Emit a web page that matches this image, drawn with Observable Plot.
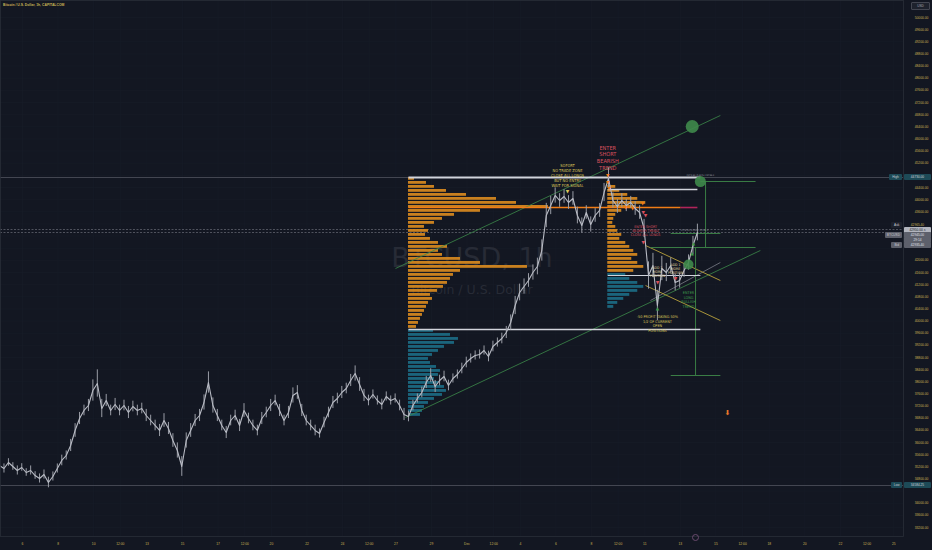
<!DOCTYPE html>
<html><head><meta charset="utf-8">
<script src="https://cdn.jsdelivr.net/npm/d3@7"></script>
<script src="https://cdn.jsdelivr.net/npm/@observablehq/plot@0.6"></script>
<style>
html,body{margin:0;padding:0;background:#131722;}
#wrap{position:relative;width:932px;height:550px;overflow:hidden;background:#131722;}
#title{position:absolute;left:3px;top:3px;font:bold 3.4px "Liberation Sans",sans-serif;color:#c9b455;white-space:nowrap;}
.bd{position:absolute;font:3.2px "Liberation Sans",sans-serif;line-height:6px;height:6px;text-align:center;white-space:nowrap;border-radius:1px;}
</style></head><body>
<div id="wrap"><div id="title">Bitcoin / U.S. Dollar, 1h, CAPITALCOM</div></div>
<script>
// ---------- data ----------
const priceStart = "2023-11-04T17:00";
const priceStepHours = 6;
const closes = [35243,35144,35342,35210,35078,35177,35012,35078,34913,34815,
34946,34683,34881,35144,35408,35572,35902,36396,36791,37055,
37219,37713,37944,37120,37384,37055,37252,37055,37219,36989,
37186,37055,37120,36890,36725,36561,36396,36725,36462,36066,
35737,35210,36066,36396,36725,36890,37318,37977,37219,36890,
36561,36330,36725,36890,36561,37055,36791,36561,36396,36791,
36989,37219,37384,37055,36725,36989,37549,37648,37055,36725,
36561,36396,36297,36659,36989,37318,37450,37648,37779,38043,
38273,37911,37549,37384,37582,37384,37252,37516,37384,37450,
37219,36923,36857,37219,37450,37648,37977,38207,37845,38043,
38175,37878,38109,38240,38438,38636,38767,38866,38899,39031,
38833,39163,39294,39426,39624,39953,40513,40942,41139,41337,
41600,41798,42325,43478,43807,44137,43972,44104,43906,44038,
43478,43148,43577,43181,43478,43643,44235,44697,43972,43774,
43972,43807,43906,43708,43577,43050,41501,41831,40513,41732,
41600,41831,41271,41337,41666,41930,42490,42918];
// high-low span of each 6h stretch of candles (USD)
const spans = [250,300,250,250,300,250,250,300,250,300,
300,350,300,300,350,300,400,450,400,350,
400,700,900,600,400,350,400,350,350,400,
350,350,350,400,350,350,400,450,400,450,
500,650,500,450,400,400,500,700,500,400,
350,400,350,350,400,450,350,350,350,400,
350,400,350,400,350,400,500,450,400,350,
350,350,300,350,350,400,350,400,350,400,
500,450,400,350,300,300,350,300,300,300,
350,400,350,350,300,350,400,450,400,350,
350,350,300,300,350,350,300,300,300,300,
350,350,300,350,400,500,600,550,500,450,
500,550,700,800,600,500,450,450,450,450,
550,500,450,500,450,450,600,700,500,450,
450,400,400,450,450,600,900,800,1000,800,
600,500,550,500,450,500,600,550];

const xTickDates = ["2023-11-06","2023-11-08","2023-11-10","2023-11-11T12:00","2023-11-13","2023-11-15","2023-11-17","2023-11-18T12:00","2023-11-20","2023-11-22","2023-11-24","2023-11-25T12:00","2023-11-27","2023-11-29","2023-12-01","2023-12-02T12:00","2023-12-04","2023-12-06","2023-12-08","2023-12-09T12:00","2023-12-11","2023-12-13","2023-12-15","2023-12-16T12:00","2023-12-18","2023-12-20","2023-12-22","2023-12-23T12:00","2023-12-25"];
const xTickLabels = ["6","8","10","12:00","13","15","17","12:00","20","22","24","12:00","27","29","Dec","12:00","4","6","8","12:00","11","13","15","12:00","18","20","22","12:00","25"];
const yTicks = d3.range(33200, 50001, 400);

// volume profiles (row volumes, top row first)
const vpRowSize = 131.8;
const vp1Start = "2023-11-27T17:00", vp1Top = 44730;
const vp1Upper = [6,18,26,38,58,88,108,140,72,46,34,26,16,20,17,22,30,39,30,34,52,72,119,52,45,42,39,35,29,22,24,20,18,16,14,12,10,8];
const vp1Lower = [25,42,50,46,36,30,24,20,22,28,32,30,26,30,36,38,34,26,20,16,14,12];
const vp2Start = "2023-12-08T22:00", vp2Top = 44466;
const vp2Upper = [8,12,20,30,38,28,14,8,6,5,8,10,14,12,18,22,26,30,24,30,36,26];
const vp2Lower = [18,22,30,36,30,22,16,10,6];

// drawings
const greenTrend = [
  {t1:"2023-11-26T23:30", p1:41732, t2:"2023-12-15T06:00", p2:46772},
  {t1:"2023-11-27T13:00", p1:36824, t2:"2023-12-17T12:00", p2:42325}
];
const yellowTrend = [
  {t1:"2023-12-11T01:00", p1:42490, t2:"2023-12-15T06:00", p2:41337},
  {t1:"2023-12-11T01:00", p1:41172, t2:"2023-12-15T06:00", p2:40019}
];
const grayTrend = [
  {t1:"2023-12-11T07:40", p1:40678, t2:"2023-12-15T06:00", p2:41930}
];
const whiteLevels = [
  {t1:"2023-11-27T17:00", p1:44730, t2:"2023-12-14T03:00", p2:44730, w:2},
  {t1:"2023-11-27T17:00", p1:39723, t2:"2023-12-14T03:00", p2:39723, w:1.5},
  {t1:"2023-12-08T22:00", p1:44334, t2:"2023-12-13T23:00", p2:44334, w:1.5},
  {t1:"2023-12-08T22:00", p1:41501, t2:"2023-12-14T03:00", p2:41501, w:1.2}
];
const pocLevels = [
  {t1:"2023-11-27T17:00", p1:43741, t2:"2023-12-13T00:15", p2:43741, c:"#f07c16"},
  {t1:"2023-12-13T00:15", p1:43741, t2:"2023-12-13T23:00", p2:43741, c:"#b0245a"}
];
const greenLevels = [
  {t1:"2023-12-14T03:00", p1:44598, t2:"2023-12-17T05:30", p2:44598},
  {t1:"2023-12-11T07:40", p1:42424, t2:"2023-12-17T05:30", p2:42424},
  {t1:"2023-12-12T11:00", p1:42885, t2:"2023-12-15T06:00", p2:42885},
  {t1:"2023-12-12T11:00", p1:38207, t2:"2023-12-15T06:00", p2:38207},
  {t1:"2023-12-14T10:00", p1:44598, t2:"2023-12-14T10:00", p2:42424},
  {t1:"2023-12-13T20:30", p1:42424, t2:"2023-12-13T20:30", p2:38207}
];
const fullRules = [44730, 34584];
const dashedRules = [43017, 42918];
const circles = [
  {t:"2023-12-13T16:00", p:46410, r:6.5},
  {t:"2023-12-14T03:00", p:44598, r:5.5},
  {t:"2023-12-13T11:00", p:41864, r:5}
];
const notes = [
  {t:"2023-12-06T15:40", p:44795, s:4, c:"#dcc75a", text:"SOFORT\nNO TRADE ZONE\nCLOSE ALL LONGS\nBUT NO ENTRY\nWAIT FOR SIGNAL"},
  {t:"2023-12-08T22:00", p:45388, s:5.6, c:"#d9505f", text:"ENTER\nSHORT\nBEARISH\nTREND"},
  {t:"2023-12-11T01:00", p:42984, s:3.6, c:"#d9505f", text:"ENTER SHORT\nBEARISH TREND\nCLOSE ALL LONGS"},
  {t:"2023-12-11T17:00", p:41633, s:3.5, c:"#e6dca6", text:"ADD 1\nMORE\nPOSITION"},
  {t:"2023-12-12T17:30", p:41732, s:3.5, c:"#e6dca6", text:"ADD 1\nMORE\nPOSITION"},
  {t:"2023-12-11T17:00", p:39921, s:3.8, c:"#dcc75a", text:"-50 PROFIT TAKING 50%\n1/2 OF CURRENT\nOPEN\nPOSITIONS"},
  {t:"2023-12-13T11:00", p:40711, s:3.8, c:"#3f9a4c", text:"ENTER\nLONG\nBULLISH\nTREND"},
  {t:"2023-12-14T03:00", p:44800, s:2.4, c:"#9598a1", text:"2373.60 (5.61%) 23736.0"},
  {t:"2023-12-13T19:00", p:43000, s:2.4, c:"#9598a1", text:"1478.20 (3.55%) 14782.0"}
];
const downMarks = [
  {t:"2023-12-08T22:00", p:44795, c:"#f07c16"},
  {t:"2023-12-08T22:00", p:44565, c:"#f07c16"},
  {t:"2023-12-09T00:00", p:44368, c:"#f07c16"},
  {t:"2023-12-09T22:00", p:43741, c:"#f07c16"},
  {t:"2023-12-10T07:30", p:43708, c:"#f07c16"},
  {t:"2023-12-10T21:00", p:43873, c:"#f07c16"},
  {t:"2023-12-10T22:00", p:43577, c:"#d9505f"},
  {t:"2023-12-11T01:00", p:43478, c:"#d9505f"},
  {t:"2023-12-10T22:00", p:42589, c:"#d9505f"},
  {t:"2023-12-11T17:00", p:41271, c:"#d9505f"},
  {t:"2023-12-12T17:30", p:41403, c:"#d9505f"},
  {t:"2023-12-06T15:40", p:44268, c:"#dcc75a"}
];
const upMarks = [
  {t:"2023-12-11T17:00", p:40415},
  {t:"2023-12-13T17:45", p:42556},
  {t:"2023-12-13T16:00", p:42226}
];
const bigArrow = [{t:"2023-12-15T15:40", p:36989}];

// axis badges
const badges = [
  {p:44730, label:"High", value:"44730.00", lbg:"#1d4a57", vbg:"#1d4a57", vc:"#d1d4dc"},
  {p:34584, label:"Low", value:"34584.25", lbg:"#1d4a57", vbg:"#1d4a57", vc:"#d1d4dc"},
  {p:43150, label:"Ask", value:"42965.40", lbg:"#1e222d", vbg:"#131722", vc:"#c9b455"},
  {p:42984, label:"", value:"42950.00 \u02c4", lbg:"", vbg:"#b2b5be", vc:"#131722"},
  {p:42819, label:"BTCUSD", value:"42945.00", lbg:"#5d606b", vbg:"#5d606b", vc:"#e0e3eb"},
  {p:42654, label:"", value:"29:14", lbg:"", vbg:"#5d606b", vc:"#e0e3eb"},
  {p:42490, label:"Bid", value:"42935.40", lbg:"#5d606b", vbg:"#5d606b", vc:"#e0e3eb"}
];

// ---------- build ----------
const D = s => new Date(s.length === 10 ? s + "T00:00:00Z" : s + ":00Z");
const t0 = D(priceStart).getTime();
const series = closes.map((c, i) => ({t: new Date(t0 + i * priceStepHours * 3600e3), c, lo: c - spans[i] / 2, hi: c + spans[i] / 2}));
const volUnitMs = 4.86e6; // time width per unit of profile volume
function vpRows(start, top, upper, lower) {
  const s = D(start).getTime();
  const rows = [];
  upper.concat(lower).forEach((v, i) => {
    rows.push({x1: new Date(s), x2: new Date(s + v * volUnitMs),
      y1: top - i * vpRowSize, y2: top - (i + 1) * vpRowSize + vpRowSize * 0.3,
      c: i < upper.length ? "#d98a1f" : "#1c6c86"});
  });
  return rows;
}
const vpAll = vpRows(vp1Start, vp1Top, vp1Upper, vp1Lower).concat(vpRows(vp2Start, vp2Top, vp2Upper, vp2Lower));
const seg = a => a.map(d => ({...d, x1: D(d.t1), x2: D(d.t2)}));
const pt = a => a.map(d => ({...d, x: D(d.t)}));
const tickDates = xTickDates.map(D);
const labelOf = new Map(tickDates.map((d, i) => [+d, xTickLabels[i]]));
// axis labels hidden behind the price badges, as on the original
const shownYTicks = yTicks.filter(v => !badges.some(b => Math.abs(b.p - v) < 190));

const plot = Plot.plot({
  width: 932, height: 550,
  marginLeft: 0, marginRight: 29, marginTop: 0, marginBottom: 14,
  style: {background: "#131722", color: "#c9b455", fontFamily: "Liberation Sans, sans-serif", overflow: "visible"},
  x: {type: "utc", domain: [D("2023-11-04T18:18"), D("2023-12-25T13:12")]},
  y: {domain: [32904, 50560]},
  r: {type: "identity"},
  marks: [
    Plot.gridY(yTicks, {stroke: "#181c28", strokeOpacity: 1, strokeWidth: 0.6}),
    Plot.gridX(tickDates, {stroke: "#181c28", strokeOpacity: 1, strokeWidth: 0.6}),
    Plot.text(["BTCUSD, 1h"], {frameAnchor: "middle", dx: 20, dy: -10, fontSize: 27, fill: "#272b36", fontFamily: "DejaVu Sans"}),
    Plot.text(["Bitcoin / U.S. Dollar"], {frameAnchor: "middle", dx: 20, dy: 21, fontSize: 12.5, fill: "#272b36", fontFamily: "DejaVu Sans"}),
    Plot.ruleY(fullRules, {stroke: "#50535e", strokeWidth: 0.8}),
    Plot.ruleY(dashedRules, {stroke: "#6a6d78", strokeWidth: 0.7, strokeDasharray: "2,1.5"}),
    Plot.rect(vpAll, {x1: "x1", x2: "x2", y1: "y1", y2: "y2", fill: "c", fillOpacity: 0.92}),
    Plot.link(seg(greenTrend), {x1: "x1", y1: "p1", x2: "x2", y2: "p2", stroke: "#3c8a4a", strokeWidth: 0.8}),
    Plot.link(seg(grayTrend), {x1: "x1", y1: "p1", x2: "x2", y2: "p2", stroke: "#8a8d96", strokeWidth: 0.7}),
    Plot.link(seg(yellowTrend), {x1: "x1", y1: "p1", x2: "x2", y2: "p2", stroke: "#b9a23c", strokeWidth: 0.9}),
    Plot.link(seg(greenLevels), {x1: "x1", y1: "p1", x2: "x2", y2: "p2", stroke: "#3a7d45", strokeWidth: 1}),
    Plot.link(seg(whiteLevels), {x1: "x1", y1: "p1", x2: "x2", y2: "p2", stroke: "#d1d4dc", strokeWidth: "w"}),
    Plot.link(seg(pocLevels), {x1: "x1", y1: "p1", x2: "x2", y2: "p2", stroke: "c", strokeWidth: 1.6}),
    Plot.ruleX(series, {x: "t", y1: "lo", y2: "hi", stroke: "#9a9da6", strokeWidth: 1}),
    Plot.line(series, {x: "t", y: "c", stroke: "#b8bbc4", strokeWidth: 1.1}),
    Plot.dot(pt(circles), {x: "x", y: "p", r: "r", fill: "#3f8a4b", fillOpacity: 0.9, stroke: "none"}),
    Plot.text(pt(downMarks), {x: "x", y: "p", text: () => "\u25BC", fill: "c", fontSize: 4.5, fontFamily: "DejaVu Sans"}),
    Plot.text(pt(upMarks), {x: "x", y: "p", text: () => "\u25B2", fill: "#3f9a4c", fontSize: 4.5, fontFamily: "DejaVu Sans"}),
    Plot.text(pt(bigArrow), {x: "x", y: "p", text: () => "\u2B07", fill: "#e8782a", fontSize: 7, fontFamily: "DejaVu Sans"}),
    Plot.text(pt(notes), {x: "x", y: "p", text: "text", fill: "c", fontSize: "s", lineHeight: 1.2, fontFamily: "DejaVu Sans Condensed, DejaVu Sans", textAnchor: "middle"}),
    Plot.frame({stroke: "#2a2e39", strokeWidth: 0.8}),
    Plot.axisY(shownYTicks, {anchor: "right", tickSize: 0, tickPadding: 18, textAnchor: "middle", tickFormat: d => d.toFixed(2), fontSize: 3.3, fill: "#c9b455"}),
    Plot.axisX(tickDates, {tickSize: 0, tickPadding: 6, tickFormat: d => labelOf.get(+d), fontSize: 3.3, fill: "#c9b455"})
  ]
});
const wrap = document.getElementById("wrap");
wrap.insertBefore(plot, wrap.firstChild);

// axis badges positioned with the plot's own y scale
const ys = plot.scale("y");
badges.forEach(b => {
  const y = ys.apply(b.p);
  const v = document.createElement("div");
  v.className = "bd";
  Object.assign(v.style, {left: "904px", width: "27px", top: (y - 3) + "px", background: b.vbg, color: b.vc});
  v.textContent = b.value;
  wrap.appendChild(v);
  if (b.label) {
    const l = document.createElement("div");
    l.className = "bd";
    const w = b.label.length * 2.2 + 4;
    Object.assign(l.style, {left: (902 - w) + "px", width: w + "px", top: (y - 3) + "px", background: b.lbg, color: "#c8cad2"});
    l.textContent = b.label;
    wrap.appendChild(l);
  }
});
const usd = document.createElement("div");
usd.className = "bd";
Object.assign(usd.style, {left: "911px", width: "17px", top: "2px", background: "#1e222d", color: "#a3a6af", border: "0.5px solid #434651"});
usd.textContent = "USD";
wrap.appendChild(usd);
const logo = document.createElement("div");
Object.assign(logo.style, {position: "absolute", left: "692px", top: "534px", width: "5px", height: "5px", borderRadius: "50%", border: "0.8px solid #6a4a6e"});
wrap.appendChild(logo);
</script>
</body></html>
